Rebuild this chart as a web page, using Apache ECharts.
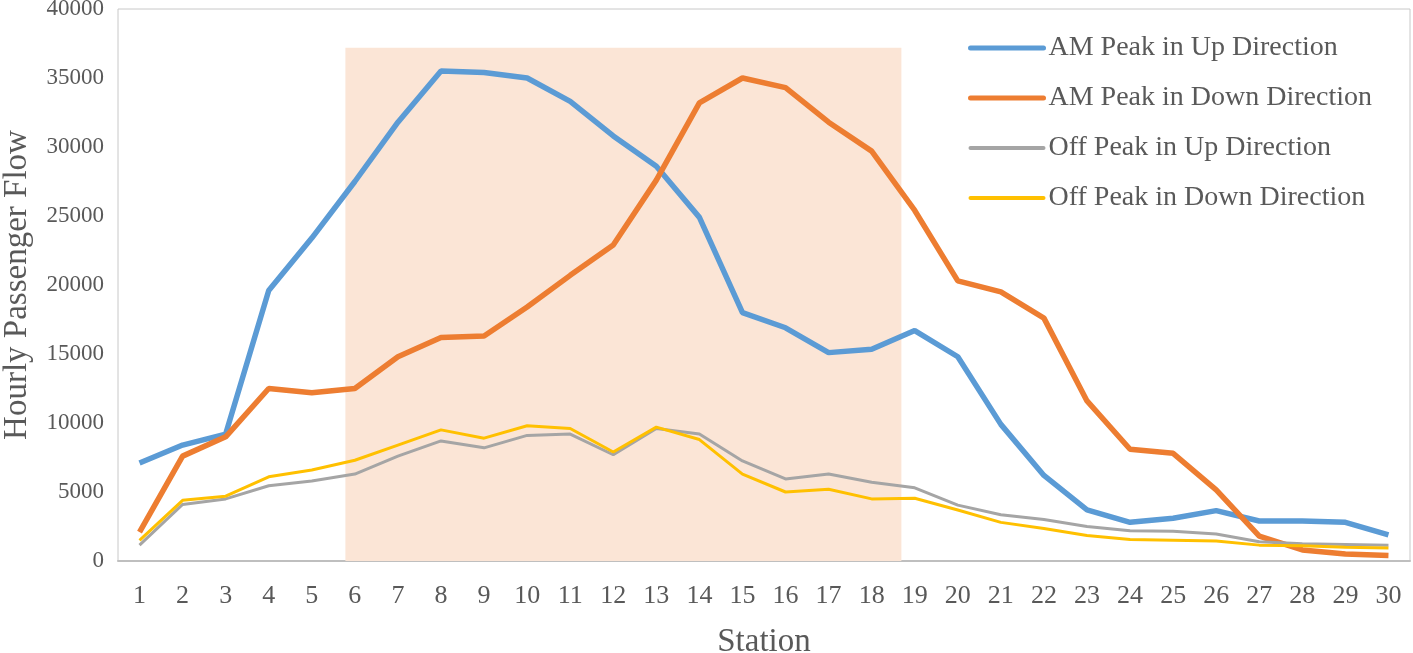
<!DOCTYPE html>
<html>
<head>
<meta charset="utf-8">
<script src="https://cdn.jsdelivr.net/npm/echarts@6/dist/echarts.min.js"></script>
<style>
  html, body { margin: 0; padding: 0; background: #fff; }
  #chart { width: 1413px; height: 653px; }
</style>
</head>
<body>
<div id="chart"></div>
<script>
// 站点
const stations = ['1','2','3','4','5','6','7','8','9','10','11','12','13','14','15',
  '16','17','18','19','20','21','22','23','24','25','26','27','28','29','30']

// 客流数据
const amUp = [7100, 8400, 9200, 19600, 23400, 27500, 31800, 35500, 35400, 35000,
  33300, 30800, 28600, 24900, 18000, 16900, 15100, 15350, 16700, 14800,
  9900, 6200, 3700, 2800, 3100, 3650, 2900, 2900, 2800, 1900]
const amDown = [2100, 7600, 9000, 12500, 12200, 12500, 14800, 16200, 16300, 18400,
  20700, 22900, 27600, 33200, 35000, 34300, 31800, 29700, 25400, 20300,
  19500, 17600, 11600, 8100, 7800, 5150, 1800, 800, 500, 400]
const offUp = [1150, 4100, 4500, 5450, 5800, 6300, 7600, 8700, 8200, 9100,
  9200, 7700, 9600, 9200, 7250, 5950, 6300, 5700, 5300, 4050,
  3350, 3000, 2500, 2200, 2150, 1950, 1400, 1250, 1200, 1150]
const offDown = [1500, 4400, 4700, 6100, 6600, 7300, 8400, 9500, 8900, 9800,
  9600, 7900, 9700, 8800, 6300, 5000, 5200, 4500, 4550, 3700,
  2800, 2350, 1850, 1550, 1500, 1450, 1150, 1100, 1000, 950]

const seriesNames = ['AM Peak in Up Direction', 'AM Peak in Down Direction',
  'Off Peak in Up Direction', 'Off Peak in Down Direction']

// 高峰区段 (站点坐标, 上限)
const zoneStart = 5.78
const zoneEnd = 18.69
const zoneTop = 37200

const font = 'Liberation Serif'
const textColor = '#595959'

const chart = echarts.init(document.getElementById('chart'))

const colorArr = ['#5B9BD5', '#ED7D31', '#A5A5A5', '#FFC000']
const widthArr = [5.5, 5.5, 3, 3]
const dataArr = [amUp, amDown, offUp, offDown]

const lineSeries = dataArr.map((item, index) => {
  return {
    name: seriesNames[index],
    type: 'line',
    data: item,
    showSymbol: false,
    symbol: 'none',
    lineStyle: { color: colorArr[index], width: widthArr[index] },
    itemStyle: { color: colorArr[index] },
    z: 3
  }
})

// 图例: 只画线, 圆头
const legendData = seriesNames.map((name, index) => {
  return {
    name: name,
    itemStyle: { opacity: 0 },
    lineStyle: { color: colorArr[index], width: index < 2 ? 5 : 4, cap: 'round' }
  }
})

const option = {
  animation: false,
  grid: {
    left: 118,
    right: 3,
    top: 9,
    bottom: 92,
    outerBoundsMode: 'none',
    show: true,
    borderColor: '#c8c8c8',
    borderWidth: 1
  },
  legend: {
    data: legendData,
    orient: 'vertical',
    left: 968,
    top: 34,
    padding: 0,
    itemWidth: 73,
    itemHeight: 14,
    itemGap: 22,
    textStyle: { fontFamily: font, fontSize: 28, color: textColor }
  },
  xAxis: [
    {
      type: 'category',
      data: stations,
      name: 'Station',
      nameLocation: 'middle',
      nameGap: 65,
      nameTextStyle: { fontFamily: font, fontSize: 33, color: textColor },
      axisLine: { lineStyle: { color: '#bfbfbf', width: 2 } },
      axisTick: { show: false },
      axisLabel: { fontFamily: font, fontSize: 26, color: textColor, margin: 22 }
    },
    {
      type: 'value',
      min: 0.5,
      max: 30.5,
      show: false
    }
  ],
  yAxis: {
    type: 'value',
    min: 0,
    max: 40000,
    interval: 5000,
    name: 'Hourly Passenger Flow',
    nameLocation: 'middle',
    nameGap: 84,
    nameTextStyle: { fontFamily: font, fontSize: 33, color: textColor },
    axisLine: { show: false },
    axisTick: { show: false },
    splitLine: { show: false },
    axisLabel: {
      fontFamily: font, fontSize: 23, color: textColor, margin: 14,
      formatter: (v) => String(v)
    }
  },
  series: [
    {
      type: 'line',
      xAxisIndex: 1,
      data: [],
      silent: true,
      z: 1,
      markArea: {
        silent: true,
        itemStyle: { color: '#FBE5D6' },
        data: [[{ xAxis: zoneStart, yAxis: 0 }, { xAxis: zoneEnd, yAxis: zoneTop }]]
      }
    },
    ...lineSeries
  ]
}

chart.setOption(option)
</script>
</body>
</html>
